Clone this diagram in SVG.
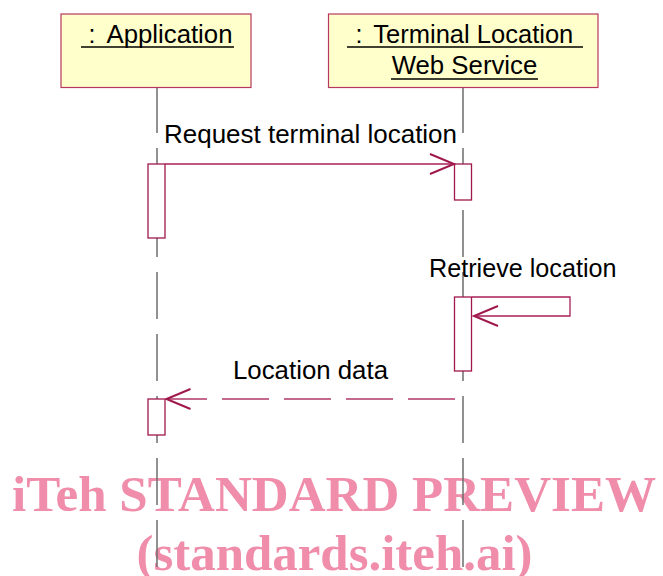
<svg xmlns="http://www.w3.org/2000/svg" width="663" height="576" viewBox="0 0 663 576">
<style>
.obj{fill:#FFFFCC;stroke:#B8375E;stroke-width:1.2}
.t{font-family:"Liberation Sans",Arial,sans-serif;font-size:25px;fill:#000}
.ul{stroke:#000;stroke-width:1.6}
.life{stroke:#6e6e6e;stroke-width:1.5;stroke-dasharray:47 15;stroke-dashoffset:2;fill:none}
.act{fill:#fff;stroke:#A0184C;stroke-width:1.3}
.msg{stroke:#A8205A;stroke-width:1.3;fill:none}
.ret{stroke:#B0386A;stroke-width:1.3;fill:none;stroke-dasharray:47 15}
.wm{font-family:"Liberation Serif","Times New Roman",serif;font-weight:bold;font-size:51px;fill:#EF8DAA;text-anchor:middle}
</style>
<defs>
<marker id="open" markerUnits="userSpaceOnUse" viewBox="0 0 27 23" markerWidth="27" markerHeight="23" refX="25" refY="11.5" orient="auto">
<path d="M1,1.5 L25,11.5 L1,21.5" fill="none" stroke="#A0184C" stroke-width="2"/>
</marker>
</defs>
<g id="watermark">
<text class="wm" x="334" y="511" textLength="644" lengthAdjust="spacingAndGlyphs">iTeh STANDARD PREVIEW</text>
<text class="wm" x="334.5" y="570" textLength="396" lengthAdjust="spacingAndGlyphs">(standards.iteh.ai)</text>
</g>
<g id="lifelines">
<line class="life" x1="157" y1="88" x2="157" y2="576"/>
<line class="life" x1="463" y1="88" x2="463" y2="576"/>
</g>
<g id="application">
<rect class="obj" x="61" y="14" width="190" height="73.5"/>
<text class="t" x="88.5" y="43">:</text>
<text class="t" x="106.5" y="43" textLength="126" lengthAdjust="spacingAndGlyphs">Application</text>
<line class="ul" x1="81" y1="47" x2="234" y2="47"/>
</g>
<g id="terminal-location-ws">
<rect class="obj" x="328.5" y="14" width="269.5" height="73.5"/>
<text class="t" x="355.5" y="43">:</text>
<text class="t" x="373.3" y="43" textLength="200" lengthAdjust="spacingAndGlyphs">Terminal Location</text>
<line class="ul" x1="347" y1="47" x2="583" y2="47"/>
<text class="t" x="391.7" y="73.5" textLength="145.6" lengthAdjust="spacingAndGlyphs">Web Service</text>
<line class="ul" x1="391" y1="79" x2="538" y2="79"/>
</g>
<g id="activations">
<rect class="act" x="148" y="164" width="17" height="74"/>
<rect class="act" x="454.5" y="164" width="17" height="36"/>
<rect class="act" x="454.5" y="297" width="17" height="74"/>
<rect class="act" x="148" y="399" width="17" height="36"/>
</g>
<g id="connectors">
<line class="msg" x1="165" y1="164" x2="454" y2="164" marker-end="url(#open)"/>
<text class="t" x="164" y="143" textLength="293" lengthAdjust="spacingAndGlyphs">Request terminal location</text>
<polyline class="msg" points="472,297 570,297 570,316 474,316" marker-end="url(#open)"/>
<text class="t" x="429" y="277" textLength="187.5" lengthAdjust="spacingAndGlyphs">Retrieve location</text>
<line class="ret" x1="455" y1="399" x2="166.5" y2="399" marker-end="url(#open)"/>
<text class="t" x="233" y="379" textLength="155" lengthAdjust="spacingAndGlyphs">Location data</text>
</g>
</svg>
